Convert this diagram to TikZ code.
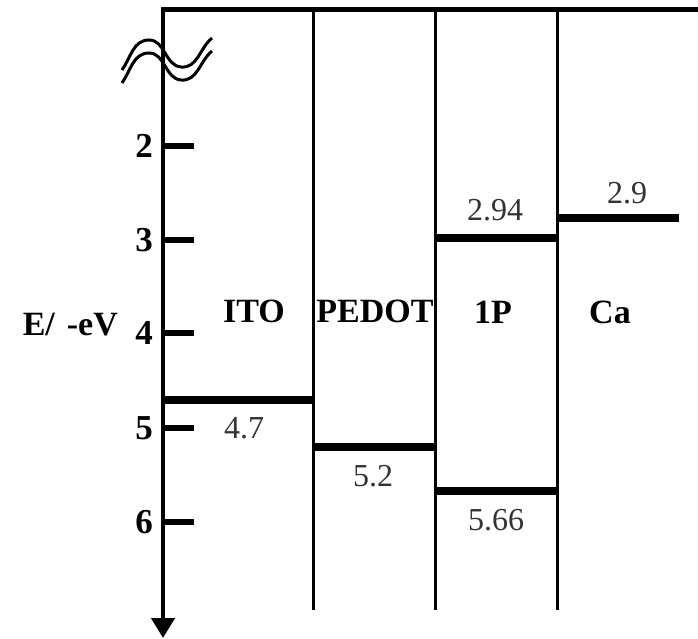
\documentclass[tikz,border=0pt]{standalone}
\usepackage{fontspec}
\setmainfont{Liberation Serif}
\usetikzlibrary{arrows.meta}
\begin{document}
\begin{tikzpicture}[x=1pt,y=-1pt,
  lbl/.style={font=\fontsize{34}{36}\selectfont\bfseries, inner sep=0pt},
  tnum/.style={font=\fontsize{35}{38}\selectfont\bfseries, inner sep=0pt},
  val/.style={font=\fontsize{32}{34}\selectfont, text=black!80, inner sep=0pt},
  tick/.style={line width=6.5pt},
  level/.style={line width=8pt},
  sep/.style={line width=3pt}]
\useasboundingbox (0,0) rectangle (698,639);
% frame
\draw[line width=5pt] (161,10) -- (698,10);
\draw[line width=4.5pt,-{Triangle[width=23pt,length=20pt]}] (163,8) -- (163,638);
\foreach \x in {313,435,557} \draw[sep] (\x,10) -- (\x,610);
% break symbol
\draw[line width=3pt] (122,70) to[out=55,in=180] (149,40) to[out=0,in=175] (181,67) to[out=-5,in=220] (212,38);
\draw[line width=3pt] (122,83) to[out=55,in=180] (149,53) to[out=0,in=175] (181,80) to[out=-5,in=220] (212,51);
% ticks and numbers
\foreach \v/\y in {2/146,3/240,4/333,5/428,6/522}{
  \draw[tick] (165,\y) -- (194,\y);
  \node[tnum] (n\v) at (144,\y) {\v};
}
\node[lbl, anchor=east] (elab) at (118,325) {E/\hspace{0.35em}-eV};
% levels
\draw[level] (165,400) -- (313,400);
\draw[level] (313,447) -- (435,447);
\draw[level] (435,238) -- (557,238);
\draw[level] (435,491) -- (557,491);
\draw[level] (557,218) -- (679,218);
% values
\node[val] (v47) at (244,428) {4.7};
\node[val] (v52) at (373,476) {5.2};
\node[val] (v294) at (495,210) {2.94};
\node[val] (v29) at (627,193) {2.9};
\node[val] (v566) at (496,520) {5.66};
% layer labels
\node[lbl] (ito) at (254,311) {ITO};
\node[lbl] (pedot) at (375,311) {PEDOT};
\node[lbl] (p1) at (493,312) {1P};
\node[lbl] (ca) at (610,312) {Ca};
\end{tikzpicture}
\end{document}
